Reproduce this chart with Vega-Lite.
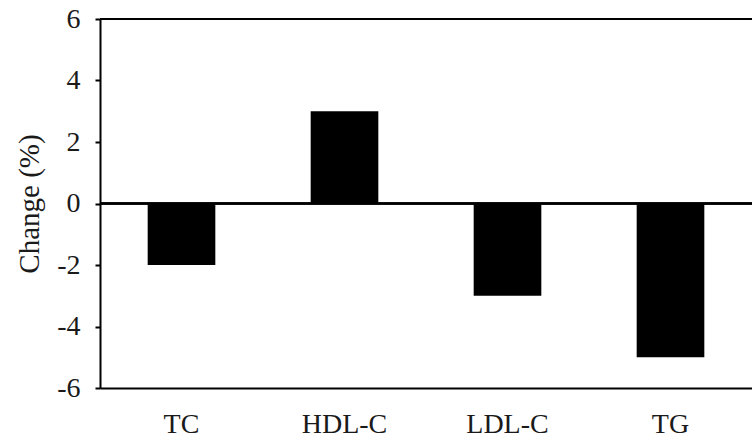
{
  "$schema": "https://vega.github.io/schema/vega-lite/v6.json",
  "width": 652,
  "height": 369,
  "autosize": {"type": "none"},
  "padding": {"left": 100, "top": 19, "right": 0, "bottom": 55},
  "background": "white",
  "config": {
    "view": {"stroke": null},
    "font": "Liberation Serif"
  },
  "data": {
    "values": [
      {"lipid": "TC", "change": -2},
      {"lipid": "HDL-C", "change": 3},
      {"lipid": "LDL-C", "change": -3},
      {"lipid": "TG", "change": -5}
    ]
  },
  "layer": [
    {
      "mark": {"type": "bar", "color": "black"},
      "encoding": {
        "x": {
          "field": "lipid",
          "type": "nominal",
          "sort": null,
          "scale": {"paddingInner": 0.585, "paddingOuter": 0.2925},
          "axis": {
            "title": null,
            "labelAngle": 0,
            "ticks": false,
            "labelPadding": 22,
            "labelFontSize": 28,
            "labelFont": "Liberation Serif",
            "labelColor": "#1a1a1a",
            "domainColor": "black",
            "domainWidth": 2
          }
        },
        "y": {
          "field": "change",
          "type": "quantitative",
          "scale": {"domain": [-6, 6], "nice": false},
          "axis": {
            "title": "Change (%)",
            "values": [-6, -4, -2, 0, 2, 4, 6],
            "labelExpr": "'' + datum.value",
            "grid": false,
            "tickSize": 5,
            "tickWidth": 2,
            "tickColor": "black",
            "labelPadding": 15,
            "labelFontSize": 28,
            "labelFont": "Liberation Serif",
            "labelColor": "#1a1a1a",
            "titleFontSize": 29,
            "titleFont": "Liberation Serif",
            "titleFontWeight": "normal",
            "titleColor": "#1a1a1a",
            "titlePadding": 12,
            "domainColor": "black",
            "domainWidth": 2
          }
        },
        "y2": {"datum": 0}
      }
    },
    {
      "mark": {"type": "rule", "color": "black", "strokeWidth": 2},
      "encoding": {"y": {"datum": 0, "type": "quantitative"}}
    },
    {
      "mark": {"type": "rule", "color": "black", "strokeWidth": 2},
      "encoding": {"y": {"datum": 6, "type": "quantitative"}}
    }
  ]
}
